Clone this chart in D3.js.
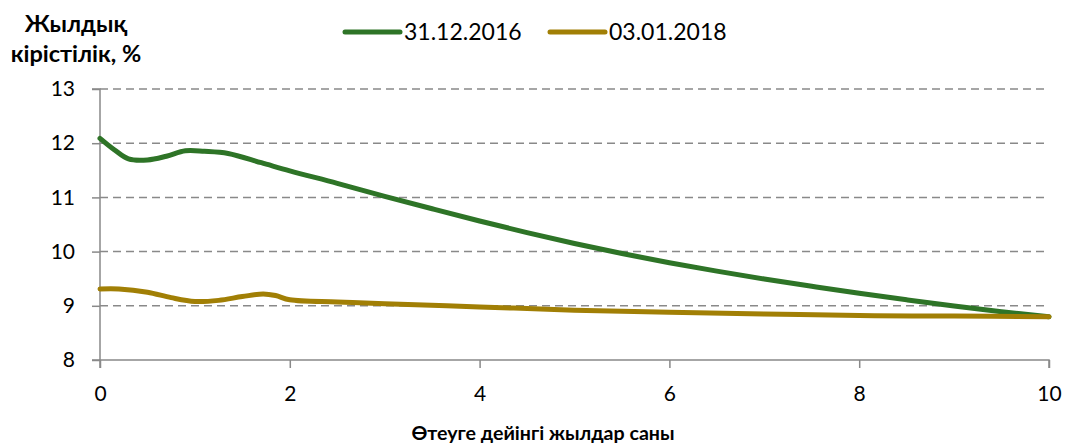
<!DOCTYPE html>
<html>
<head>
<meta charset="utf-8">
<script src="https://cdn.jsdelivr.net/npm/d3@7"></script>
<style>
html,body{margin:0;padding:0;background:#fff;}
svg text{font-family:Lato,"Open Sans",sans-serif;fill:#000;}
</style>
</head>
<body>
<svg id="chart" width="1066" height="446"></svg>
<script>
const seriesNames = ["31.12.2016", "03.01.2018"];
const seriesColors = ["#2e7427", "#a17f05"];
const years2016 = [0, 0.15, 0.3, 0.5, 0.7, 0.9, 1.1, 1.35, 1.7, 2, 2.5, 3, 3.5, 4, 4.5, 5, 5.5, 6, 6.5, 7, 7.5, 8, 8.5, 9, 9.5, 10];
const yield2016 = [12.09, 11.88, 11.71, 11.69, 11.76, 11.86, 11.85, 11.81, 11.64, 11.49, 11.26, 11.02, 10.79, 10.565, 10.35, 10.15, 9.965, 9.795, 9.64, 9.495, 9.36, 9.23, 9.11, 8.995, 8.89, 8.80];
const years2018 = [0, 0.2, 0.5, 0.75, 1.0, 1.25, 1.5, 1.72, 1.85, 2.0, 2.5, 3, 4, 5, 6, 7, 8, 9, 10];
const yield2018 = [9.31, 9.31, 9.25, 9.15, 9.08, 9.10, 9.17, 9.22, 9.19, 9.11, 9.07, 9.04, 8.98, 8.92, 8.88, 8.85, 8.82, 8.81, 8.80];
const xTicks = [0, 2, 4, 6, 8, 10];
const yTicks = [8, 9, 10, 11, 12, 13];
const yTitleLines = ["Жылдық", "кірістілік, %"];
const xTitle = "Өтеуге дейінгі жылдар саны";

const svg = d3.select("#chart");
const x = d3.scaleLinear().domain([0, 10]).range([100, 1049]);
const y = d3.scaleLinear().domain([8, 13]).range([360, 89]);
const gray = "#898989";

// gridlines
svg.append("g").selectAll("line").data(yTicks.filter(d => d > 8)).join("line")
  .attr("x1", x(0)).attr("x2", x(10))
  .attr("y1", d => y(d)).attr("y2", d => y(d))
  .attr("stroke", gray).attr("stroke-width", 1.5).attr("stroke-dasharray", "8,5");

// y axis
const yAxis = svg.append("g").attr("transform", `translate(${x(0)},0)`)
  .call(d3.axisLeft(y).tickValues(yTicks).tickSize(8).tickPadding(17).tickFormat(d3.format("d")));
// x axis
const xAxis = svg.append("g").attr("transform", `translate(0,${y(8)})`)
  .call(d3.axisBottom(x).tickValues(xTicks).tickSize(8).tickPadding(18).tickFormat(d3.format("d")));
[yAxis, xAxis].forEach(g => {
  g.select(".domain").attr("stroke", gray).attr("stroke-width", 1.5);
  g.selectAll(".tick line").attr("stroke", gray).attr("stroke-width", 1.5);
  g.selectAll(".tick text").attr("font-size", 21).attr("font-family", "Lato").attr("fill", "#000");
});
yAxis.select(".domain").attr("d", `M-8,${y(13)}H0V${y(8)}H-8`);
xAxis.select(".domain").attr("d", `M${x(0)},8V0H${x(10)}V8`);

// lines
const line = d3.line().x(d => x(d[0])).y(d => y(d[1])).curve(d3.curveCatmullRom.alpha(0.5));
const data = [d3.zip(years2016, yield2016), d3.zip(years2018, yield2018)];
svg.append("g").selectAll("path").data(data).join("path")
  .attr("d", line).attr("fill", "none")
  .attr("stroke", (d, i) => seriesColors[i]).attr("stroke-width", 5)
  .attr("stroke-linejoin", "round").attr("stroke-linecap", "round");

// legend
const legX = [345, 550];
const leg = svg.append("g").selectAll("g").data(seriesNames).join("g")
  .attr("transform", (d, i) => `translate(${legX[i]},32)`);
leg.append("line").attr("x1", 0).attr("x2", 55).attr("y1", 0).attr("y2", 0)
  .attr("stroke", (d, i) => seriesColors[i]).attr("stroke-width", 5).attr("stroke-linecap", "round");
leg.append("text").attr("x", 59).attr("y", 8).attr("font-size", 23).text(d => d);

// titles
svg.append("text").attr("text-anchor", "middle").attr("font-weight", "bold").attr("font-size", 23.5)
  .selectAll("tspan").data(yTitleLines).join("tspan")
  .attr("x", 76).attr("y", (d, i) => 32 + i * 30).text(d => d);
svg.append("text").attr("x", 543).attr("y", 440).attr("text-anchor", "middle")
  .attr("font-weight", "bold").attr("font-size", 19.6).text(xTitle);
</script>
</body>
</html>
